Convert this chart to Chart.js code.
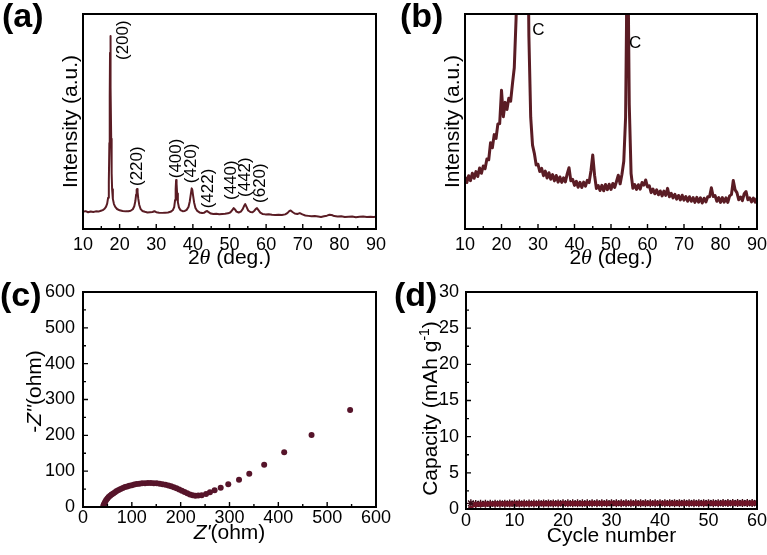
<!DOCTYPE html>
<html><head><meta charset="utf-8">
<script src="https://cdn.jsdelivr.net/npm/chart.js@4.4.0/dist/chart.umd.min.js"></script>
<style>
html,body{margin:0;padding:0;background:#fff;}
#wrap{position:relative;width:767px;height:555px;overflow:hidden;background:#fff;}
#wrap canvas{position:absolute;left:0;top:0;}
</style></head><body>
<div id="wrap">
<canvas id="ca" width="767" height="555"></canvas>
<canvas id="cb" width="767" height="555"></canvas>
<canvas id="cc" width="767" height="555"></canvas>
<canvas id="cd" width="767" height="555"></canvas>
</div>
<script>
// ---------- DATA ----------
// (a) XRD pattern
const xrdA_theta = [10.0,10.7,11.4,12.1,12.8,13.5,14.2,14.9,15.4,15.9,16.3,16.6,16.85,17.05,17.2,17.3,17.38,17.45,17.52,17.6,17.7,17.82,17.95,18.15,18.45,18.8,19.3,20.0,20.8,21.6,22.4,23.0,23.6,24.0,24.3,24.5,24.65,24.75,24.9,25.1,25.35,25.7,26.2,26.9,27.6,28.3,29.0,29.5,30.0,30.8,31.6,32.4,33.2,33.9,34.5,34.9,35.15,35.3,35.42,35.55,35.7,35.9,36.2,36.6,37.2,37.8,38.3,38.8,39.15,39.45,39.68,39.85,40.05,40.35,40.7,41.2,41.8,42.5,43.1,43.6,43.9,44.3,44.9,45.6,46.4,47.2,48.0,48.8,49.6,50.3,50.8,51.15,51.5,51.9,52.5,53.1,53.6,54.0,54.3,54.65,55.1,55.7,56.3,56.8,57.2,57.5,57.9,58.4,59.0,59.8,60.7,61.6,62.5,63.4,64.3,65.2,65.8,66.3,66.7,67.2,67.8,68.5,69.2,69.9,70.7,71.5,72.4,73.3,74.2,75.0,75.8,76.6,77.3,77.9,78.6,79.5,80.5,81.5,82.5,83.5,84.5,85.5,86.5,87.5,88.5,89.3,90.0];
const xrdA_int = [8.0,8.3,7.8,8.1,7.9,8.2,8.1,8.5,8.8,9.4,10.4,11.8,14.5,22,40,62,82,89.8,84,66,42,26,18.5,14,11.6,10.3,9.3,8.7,8.4,8.2,8.3,8.5,9.2,10.6,13,16,18.3,18.6,17.2,14,11.3,9.4,8.4,8.0,7.7,7.8,7.9,8.3,7.8,7.6,7.5,7.6,7.7,8.0,8.7,10.2,13.5,18.5,22.8,21,16.5,12.5,10,8.8,8.3,8.4,8.9,10.2,12.8,16.3,18.9,18.2,15.6,12.2,9.8,8.4,7.7,7.4,7.6,8.2,8.4,7.8,7.2,7.0,7.1,6.9,7.0,7.1,7.3,7.8,8.9,9.7,9.1,8.1,7.7,8.1,9.2,10.8,11.6,10.3,8.6,7.9,7.8,8.5,9.4,9.7,8.8,7.6,7.0,6.8,6.9,6.6,6.5,6.6,6.5,6.8,7.4,8.3,8.6,7.9,7.2,7.0,7.4,6.8,6.3,6.1,5.9,6.0,5.8,5.6,5.9,6.2,6.6,6.5,6.0,5.8,5.9,5.6,5.7,5.8,5.5,5.7,5.8,5.6,5.7,5.6,5.7];
const peakA_labels = ['(200)','(220)','(400)','(420)','(422)','(440)','(442)','(620)'];
const peakA_theta = [20.9,24.7,35.4,39.7,44.2,50.4,54.2,58.3];
const peakA_int = [78.6,20.0,23.6,21.3,9.6,13.5,14.9,12.1];

// (b) XRD pattern
const xrdB_theta = [10.0,10.5,11.0,11.5,12.0,12.5,13.0,13.5,14.0,14.5,15.0,15.5,16.0,16.5,17.0,17.5,18.0,18.5,19.0,19.5,20.0,20.5,21.0,21.5,22.0,22.5,23.0,23.5,24.0,24.5,25.0,25.5,26.0,26.5,27.0,27.5,28.0,28.5,29.0,29.5,30.0,30.5,31.0,31.5,32.0,32.5,33.0,33.5,34.0,34.5,35.0,35.5,36.0,36.5,37.0,37.5,38.0,38.5,39.0,39.5,40.0,40.5,41.0,41.5,42.0,42.5,43.0,43.5,44.0,44.5,45.0,45.5,46.0,46.5,47.0,47.5,48.0,48.5,49.0,49.5,50.0,50.5,51.0,51.5,52.0,52.5,53.0,53.5,54.0,54.25,54.5,54.75,55.0,55.5,56.0,56.5,57.0,57.5,58.0,58.5,59.0,59.5,60.0,60.5,61.0,61.5,62.0,62.5,63.0,63.5,64.0,64.5,65.0,65.5,66.0,66.5,67.0,67.5,68.0,68.5,69.0,69.5,70.0,70.5,71.0,71.5,72.0,72.5,73.0,73.5,74.0,74.5,75.0,75.5,76.0,76.5,77.0,77.5,78.0,78.5,79.0,79.5,80.0,80.5,81.0,81.5,82.0,82.5,83.0,83.5,84.0,84.5,85.0,85.5,86.0,86.5,87.0,87.5,88.0,88.5,89.0,89.5,90.0];
const xrdB_int = [24.2,21.6,24.8,22.5,25.9,23.6,26.7,24.4,28.4,25.9,29.3,28.0,32.6,32.2,40.1,37.8,43.9,42.1,48.8,49.0,64.5,52.2,58.9,55.6,60.8,59.4,67.5,75.0,98,140,180,220,260,240,180,90,52,39.0,35.2,29.8,30.1,26.7,28.2,24.8,26.9,23.7,26.2,23.1,25.3,22.4,24.9,21.8,24.2,21.7,23.8,21.9,25.6,28.5,22.4,23.1,20.3,22.2,19.4,21.7,19.3,21.8,19.9,22.6,21.6,27.0,34.4,25.0,18.8,20.2,17.9,20.3,17.8,20.7,18.3,20.8,18.4,21.2,19.3,22.1,25.0,21.0,25.5,31.5,52,95,200,105,58,25.8,18.9,20.7,18.4,20.6,18.5,21.6,20.4,22.8,19.6,20.1,16.9,18.6,16.4,18.2,15.9,17.7,15.4,17.6,15.6,18.9,15.0,16.6,14.5,16.1,13.9,15.6,13.5,15.7,13.4,15.1,12.9,15.0,12.9,14.6,12.4,14.7,12.5,14.5,12.1,14.3,12.6,15.0,15.0,19.2,15.1,15.6,12.9,14.6,12.4,14.6,12.5,14.5,12.4,15.4,16.0,22.6,18.2,16.9,13.6,14.9,13.2,16.4,17.4,13.6,14.5,12.6,14.4,12.5,14.3];
const peakB_labels = ['C','C'];
const peakB_theta = [30.1,56.6];
const peakB_int = [92.6,86.5];

// (c) Nyquist plot
const eisZre = [41.5,42.5,44,45.5,47.5,50,52.5,55.5,58.5,62,65.5,69,73,77,81.5,86,90.5,95,100,105,110,115.5,121,127,133,139,145,151,157,163,169,175,180.5,186,191.5,197,202.5,208,213.5,219,224.5,230,236,243,252,260,269.5,282,297.5,319.5,340.5,371,412,468,547];
const eisZim = [2,6,10.5,15,19.5,24,28,31.5,35,38,41.5,44.5,47.5,50,53,55.5,57.5,59.5,61,62.5,64,65,66,66.5,67,67,66.5,66,65,63.5,62,60,58,55,52,49,45.5,42,38.5,35,32.5,31.5,32,33,36.5,41,46.5,54,63.5,76,93,118,153,201,271];

// (d) cycling capacity
const cycles = [1,2,3,4,5,6,7,8,9,10,11,12,13,14,15,16,17,18,19,20,21,22,23,24,25,26,27,28,29,30,31,32,33,34,35,36,37,38,39,40,41,42,43,44,45,46,47,48,49,50,51,52,53,54,55,56,57,58,59,60];
const capCharge = [0.05,0.62,0.66,0.68,0.70,0.71,0.72,0.72,0.73,0.73,0.74,0.74,0.74,0.75,0.75,0.75,0.76,0.76,0.76,0.76,0.77,0.77,0.77,0.77,0.77,0.78,0.78,0.78,0.78,0.78,0.78,0.78,0.79,0.79,0.79,0.79,0.79,0.79,0.79,0.79,0.79,0.80,0.80,0.80,0.80,0.80,0.80,0.80,0.80,0.80,0.80,0.80,0.81,0.81,0.81,0.81,0.81,0.81,0.81,0.81];
const capDischarge = [0.78,0.70,0.71,0.72,0.73,0.73,0.74,0.74,0.75,0.75,0.75,0.76,0.76,0.76,0.76,0.77,0.77,0.77,0.77,0.78,0.78,0.78,0.78,0.78,0.78,0.79,0.79,0.79,0.79,0.79,0.79,0.79,0.80,0.80,0.80,0.80,0.80,0.80,0.80,0.80,0.80,0.81,0.81,0.81,0.81,0.81,0.81,0.81,0.81,0.81,0.81,0.81,0.82,0.82,0.82,0.82,0.82,0.82,0.82,0.82];

// tick labels
const xrdTicks = [10,20,30,40,50,60,70,80,90];
const zTicks = [0,100,200,300,400,500,600];
const cycleTicks = [0,10,20,30,40,50,60];
const capTicks = [0,5,10,15,20,25,30];

// ---------- STYLE / HELPERS ----------
const SANS = "'Liberation Sans', Arial, Helvetica, sans-serif";
const SERIF = "'Liberation Serif', 'Times New Roman', serif";
const LINE = '#5a1c24';
const DOT = '#56142a';
const W = 767, H = 555, XAX_H = 44;

function pts(xs, ys){ return xs.map((x,i)=>({x:x, y:ys[i]})); }

function drawRich(ctx, segs, x, y, rot){
  ctx.save();
  ctx.translate(x, y);
  if (rot) ctx.rotate(rot);
  ctx.textBaseline = 'alphabetic';
  ctx.textAlign = 'left';
  let total = 0;
  segs.forEach(s => { ctx.font = s.font; s.w = ctx.measureText(s.t).width; total += s.w; });
  let cx = -total/2;
  segs.forEach(s => { ctx.font = s.font; ctx.fillStyle = '#000'; ctx.fillText(s.t, cx, s.dy || 0); cx += s.w; });
  ctx.restore();
}

function makeChart(id, c){
  const A = c.area;
  const framePlugin = {
    id: 'frame' + id,
    afterDatasetsDraw(chart){
      const ctx = chart.ctx, a = chart.chartArea;
      ctx.save();
      ctx.strokeStyle = '#000';
      ctx.lineWidth = 2;
      ctx.strokeRect(a.left, a.top, a.right - a.left, a.bottom - a.top);
      ctx.lineWidth = 1.4;
      const tk = (scale, horiz) => {
        const vals = scale.ticks.map(t => t.value);
        ctx.beginPath();
        vals.forEach((v, i) => {
          const p = scale.getPixelForValue(v);
          if (horiz) { ctx.moveTo(p, a.bottom); ctx.lineTo(p, a.bottom - 5); }
          else { ctx.moveTo(a.left, p); ctx.lineTo(a.left + 5, p); }
          if (i < vals.length - 1) {
            const m = scale.getPixelForValue((v + vals[i+1]) / 2);
            if (horiz) { ctx.moveTo(m, a.bottom); ctx.lineTo(m, a.bottom - 3); }
            else { ctx.moveTo(a.left, m); ctx.lineTo(a.left + 3, m); }
          }
        });
        ctx.stroke();
      };
      tk(chart.scales.x, true);
      if (c.yTicks) tk(chart.scales.y, false);
      ctx.restore();
    },
    afterDraw(chart){
      const ctx = chart.ctx, a = chart.chartArea;
      ctx.save();
      ctx.font = 'bold 34px ' + SANS;
      ctx.fillStyle = '#000';
      ctx.textBaseline = 'alphabetic';
      ctx.textAlign = 'left';
      ctx.fillText(c.letter, c.letterPos[0], c.letterPos[1]);
      drawRich(ctx, c.xTitle, (a.left + a.right)/2, c.xTitleY, 0);
      drawRich(ctx, c.yTitle, c.yTitleX, (a.top + a.bottom)/2 + (c.yTitleShift || 0), -Math.PI/2);
      if (c.notes) {
        const xs = chart.scales.x, ys = chart.scales.y;
        c.notes.labels.forEach((t, i) => {
          const px = xs.getPixelForValue(c.notes.xs[i]);
          const py = ys.getPixelForValue(c.notes.ys[i]);
          ctx.save();
          ctx.translate(px, py);
          ctx.font = c.notes.font;
          ctx.fillStyle = '#000';
          if (c.notes.rotate) {
            ctx.rotate(-Math.PI/2);
            ctx.textAlign = 'left'; ctx.textBaseline = 'middle';
          } else {
            ctx.textAlign = 'center'; ctx.textBaseline = 'middle';
          }
          ctx.fillText(t, 0, 0);
          ctx.restore();
        });
      }
      ctx.restore();
    }
  };
  return new Chart(document.getElementById(id), {
    type: 'line',
    data: { datasets: c.datasets },
    options: {
      responsive: false, maintainAspectRatio: false, animation: false, events: [],
      layout: { padding: { left: 0, top: A.t, right: W - A.r, bottom: H - A.b - XAX_H } },
      plugins: { legend: { display: false }, tooltip: { enabled: false }, title: { display: false } },
      elements: { line: { tension: 0 } },
      scales: {
        x: {
          type: 'linear', min: c.xMin, max: c.xMax,
          afterBuildTicks: s => { s.ticks = c.xTickVals.map(v => ({ value: v })); },
          afterFit: s => { s.height = XAX_H; s.paddingLeft = 0; s.paddingRight = 0; },
          grid: { display: false, drawTicks: false },
          border: { display: false },
          ticks: { padding: c.xPad, color: '#000', font: { family: SANS, size: 18 }, maxRotation: 0, autoSkip: false }
        },
        y: {
          type: 'linear', min: c.yMin, max: c.yMax,
          afterBuildTicks: s => { if (c.yTickVals) s.ticks = c.yTickVals.map(v => ({ value: v })); },
          afterFit: s => { s.width = A.l; s.paddingTop = 0; s.paddingBottom = 0; },
          grid: { display: false, drawTicks: false },
          border: { display: false },
          ticks: { display: !!c.yTicks, padding: c.yPad || 7, color: '#000', font: { family: SANS, size: 18 }, autoSkip: false }
        }
      }
    },
    plugins: [framePlugin]
  });
}

const F21 = '21px ' + SANS;
const xrdTitle = () => [{t:'2', font:F21}, {t:'\u03B8', font:'italic 22px ' + SERIF}, {t:' (deg.)', font:F21}];

// (a)
makeChart('ca', {
  area: { l: 83, r: 376, t: 14, b: 229 },
  xMin: 10, xMax: 90, yMin: 0, yMax: 100, xTickVals: xrdTicks, xPad: 5,
  datasets: [{ data: pts(xrdA_theta, xrdA_int), borderColor: LINE, borderWidth: 2, pointRadius: 0, fill: false, borderJoinStyle: 'round' }],
  letter: '(a)', letterPos: [2, 27],
  xTitle: xrdTitle(), xTitleY: 264,
  yTitle: [{t:'Intensity (a.u.)', font:F21}], yTitleX: 77,
  notes: { labels: peakA_labels, xs: peakA_theta, ys: peakA_int, font: '17px ' + SANS, rotate: true }
});

// (b)
makeChart('cb', {
  area: { l: 465, r: 757, t: 14, b: 229 },
  xMin: 10, xMax: 90, yMin: 0, yMax: 100, xTickVals: xrdTicks, xPad: 5,
  datasets: [{ data: pts(xrdB_theta, xrdB_int), borderColor: LINE, borderWidth: 3, pointRadius: 0, fill: false, borderJoinStyle: 'round' }],
  letter: '(b)', letterPos: [400, 27],
  xTitle: xrdTitle(), xTitleY: 264,
  yTitle: [{t:'Intensity (a.u.)', font:F21}], yTitleX: 459,
  notes: { labels: peakB_labels, xs: peakB_theta, ys: peakB_int, font: '17px ' + SANS, rotate: false }
});

// (c)
makeChart('cc', {
  area: { l: 83, r: 376, t: 292, b: 507 },
  xMin: 0, xMax: 600, yMin: 0, yMax: 600, xTickVals: zTicks, yTickVals: zTicks, yTicks: true, xPad: 0, yPad: 8,
  datasets: [{ data: pts(eisZre, eisZim), showLine: false, pointRadius: 3, pointBorderWidth: 0, pointBackgroundColor: DOT, borderColor: DOT }],
  letter: '(c)', letterPos: [0, 306],
  xTitle: [{t:"Z'", font:'italic 21px ' + SANS}, {t:'(ohm)', font:F21}], xTitleY: 539,
  yTitle: [{t:'-', font:F21}, {t:"Z''", font:'italic 21px ' + SANS}, {t:'(ohm)', font:F21}], yTitleX: 41, yTitleShift: -8
});

// (d)
makeChart('cd', {
  area: { l: 466, r: 757, t: 292, b: 509 },
  xMin: 0, xMax: 60, yMin: 0, yMax: 30, xTickVals: cycleTicks, yTickVals: capTicks, yTicks: true, xPad: 1, yPad: 7,
  datasets: [
    { data: pts(cycles, capCharge), borderColor: '#8a1c2c', borderWidth: 1.5, pointRadius: 2.8, pointBorderWidth: 0, pointBackgroundColor: '#6e1426', fill: false },
    { data: pts(cycles, capDischarge), showLine: false, pointStyle: 'star', pointRadius: 4, pointBorderWidth: 1.4, pointBorderColor: '#3a0a16', pointBackgroundColor: '#3a0a16' }
  ],
  letter: '(d)', letterPos: [394, 306],
  xTitle: [{t:'Cycle number', font:F21}], xTitleY: 542,
  yTitle: [{t:'Capacity (mAh g', font:F21}, {t:'-1', font:'14px ' + SANS, dy:-8}, {t:')', font:F21}], yTitleX: 437, yTitleShift: 8
});
</script>
</body></html>
